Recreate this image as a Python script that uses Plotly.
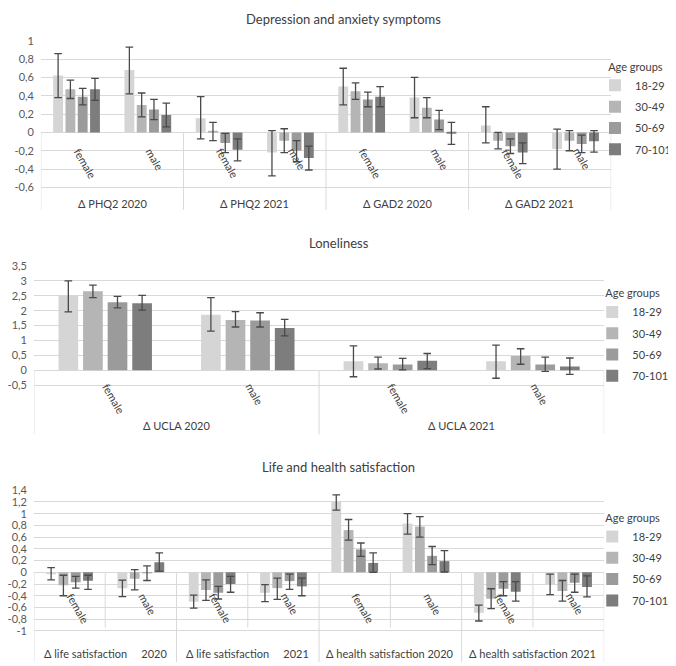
import plotly.graph_objects as go

# The page body adds an 8px margin, so the figure is 8px smaller than the window
W, H = 668, 658

age_groups = ["18-29", "30-49", "50-69", "70-101"]
colors = ["#d5d5d5", "#b5b5b5", "#9b9b9b", "#7d7d7d"]
sexes = ["female", "male"]

# ---------------- Panel 1: Depression and anxiety ----------------
p1_title = "Depression and anxiety symptoms"
p1_groups = ["Δ PHQ2 2020", "Δ PHQ2 2021", "Δ GAD2 2020", "Δ GAD2 2021"]
p1_val = {
    "18-29": [0.62, 0.68, 0.155, -0.22, 0.50, 0.38, 0.075, -0.18],
    "30-49": [0.47, 0.30, 0.01, -0.09, 0.45, 0.27, -0.09, -0.09],
    "50-69": [0.39, 0.25, -0.115, -0.20, 0.36, 0.14, -0.15, -0.125],
    "70-101": [0.47, 0.19, -0.19, -0.28, 0.39, -0.01, -0.22, -0.095],
}
p1_hi = {
    "18-29": [0.86, 0.93, 0.39, 0.02, 0.70, 0.60, 0.28, 0.035],
    "30-49": [0.57, 0.43, 0.11, 0.04, 0.54, 0.38, 0.00, 0.02],
    "50-69": [0.48, 0.36, -0.01, -0.09, 0.44, 0.24, -0.07, -0.03],
    "70-101": [0.59, 0.32, -0.07, -0.15, 0.50, 0.11, -0.115, 0.02],
}
p1_lo = {
    "18-29": [0.38, 0.42, -0.07, -0.475, 0.30, 0.16, -0.115, -0.40],
    "30-49": [0.37, 0.17, -0.09, -0.22, 0.36, 0.16, -0.18, -0.20],
    "50-69": [0.30, 0.14, -0.22, -0.32, 0.28, 0.03, -0.23, -0.22],
    "70-101": [0.35, 0.06, -0.31, -0.41, 0.28, -0.13, -0.34, -0.215],
}
p1_ticks = [-0.6, -0.4, -0.2, 0, 0.2, 0.4, 0.6, 0.8, 1]
p1_ticktext = ["-0,6", "-0,4", "-0,2", "0", "0,2", "0,4", "0,6", "0,8", "1"]

# ---------------- Panel 2: Loneliness ----------------
p2_title = "Loneliness"
p2_groups = ["Δ UCLA 2020", "Δ UCLA 2021"]
p2_val = {
    "18-29": [2.52, 1.86, 0.30, 0.30],
    "30-49": [2.65, 1.69, 0.23, 0.48],
    "50-69": [2.28, 1.67, 0.19, 0.19],
    "70-101": [2.25, 1.42, 0.32, 0.12],
}
p2_hi = {
    "18-29": [3.0, 2.44, 0.82, 0.84],
    "30-49": [2.86, 1.97, 0.44, 0.72],
    "50-69": [2.48, 1.93, 0.40, 0.44],
    "70-101": [2.51, 1.71, 0.56, 0.41],
}
p2_lo = {
    "18-29": [1.96, 1.31, -0.22, -0.27],
    "30-49": [2.44, 1.45, 0.04, 0.20],
    "50-69": [2.09, 1.45, 0.01, -0.04],
    "70-101": [2.02, 1.15, 0.055, -0.14],
}
p2_ticks = [-0.5, 0, 0.5, 1, 1.5, 2, 2.5, 3, 3.5]
p2_ticktext = ["-0,5", "0", "0,5", "1", "1,5", "2", "2,5", "3", "3,5"]

# ---------------- Panel 3: Life and health satisfaction ----------------
p3_title = "Life and health satisfaction"
NB = "\u00a0" * 5
p3_groups = ["Δ life satisfaction" + NB + "2020",
             "Δ life satisfaction" + NB + "2021",
             "Δ health satisfaction 2020", "Δ health satisfaction 2021"]
p3_val = {
    "18-29": [-0.02, -0.27, -0.50, -0.35, 1.20, 0.83, -0.69, -0.21],
    "30-49": [-0.22, -0.11, -0.30, -0.27, 0.72, 0.78, -0.45, -0.32],
    "50-69": [-0.17, -0.01, -0.35, -0.15, 0.39, 0.28, -0.28, -0.18],
    "70-101": [-0.145, 0.17, -0.20, -0.24, 0.16, 0.19, -0.33, -0.25],
}
p3_hi = {
    "18-29": [0.08, -0.135, -0.39, -0.21, 1.32, 1.00, -0.56, -0.03],
    "30-49": [-0.05, 0.045, -0.13, -0.10, 0.90, 0.95, -0.28, -0.14],
    "50-69": [-0.07, 0.11, -0.24, -0.03, 0.50, 0.44, -0.16, -0.03],
    "70-101": [-0.05, 0.33, -0.07, -0.10, 0.33, 0.37, -0.16, -0.06],
}
p3_lo = {
    "18-29": [-0.13, -0.415, -0.61, -0.50, 1.06, 0.65, -0.83, -0.38],
    "30-49": [-0.40, -0.30, -0.48, -0.46, 0.55, 0.60, -0.62, -0.49],
    "50-69": [-0.27, -0.14, -0.455, -0.29, 0.27, 0.13, -0.40, -0.34],
    "70-101": [-0.29, 0.02, -0.34, -0.40, 0.0, 0.005, -0.49, -0.42],
}
p3_ticks = [-1, -0.8, -0.6, -0.4, -0.2, 0, 0.2, 0.4, 0.6, 0.8, 1, 1.2, 1.4]
p3_ticktext = ["-1", "-0,8", "-0,6", "-0,4", "-0,2", "0", "0,2", "0,4", "0,6", "0,8", "1", "1,2", "1,4"]

FONT = "Lato, 'Open Sans', sans-serif"
GRID = "#d9d9d9"
TXT = "#404040"

fig = go.Figure()

panels = [
    dict(groups=p1_groups, val=p1_val, hi=p1_hi, lo=p1_lo, ticks=p1_ticks, tt=p1_ticktext,
         xpix=(32, 604), ypix=(26, 197), yr=(-0.845, 1.0), title=p1_title, tx=336, ty=4.5,
         pad=12, lx=-0.09, gly=191, sub=None, leg=(588, 42)),
    dict(groups=p2_groups, val=p2_val, hi=p2_hi, lo=p2_lo, ticks=p2_ticks, tt=p2_ticktext,
         xpix=(25, 597), ypix=(253.7, 424), yr=(-2.16, 3.5), title=p2_title, tx=330.5, ty=230,
         pad=9, lx=-0.045, gly=415, sub=None, leg=(585, 271)),
    dict(groups=p3_groups, val=p3_val, hi=p3_hi, lo=p3_lo, ticks=p3_ticks, tt=p3_ticktext,
         xpix=(25, 597), ypix=(480.3, 654), yr=(-1.53, 1.4), title=p3_title, tx=330, ty=457,
         pad=17, lx=-0.09, gly=645, sub=-0.94, leg=(585, 498)),
]

shapes = []
annotations = []
layout_axes = {}
for k, p in enumerate(panels, start=1):
    sfx = "" if k == 1 else str(k)
    xa, ya = "x" + sfx, "y" + sfx
    cats = [f"{g} | {s}" for g in p["groups"] for s in sexes]
    for j, ag in enumerate(age_groups):
        v = p["val"][ag]
        hi = p["hi"][ag]
        lo = p["lo"][ag]
        fig.add_trace(go.Bar(
            x=cats, y=v, name=ag, xaxis=xa, yaxis=ya,
            marker=dict(color=colors[j], line=dict(width=0)),
            error_y=dict(type="data", symmetric=False,
                         array=[h - a for h, a in zip(hi, v)],
                         arrayminus=[a - l for a, l in zip(v, lo)],
                         color="#4a4a4a", thickness=1.3, width=3.8),
            legend="legend" + sfx, legendgroup=ag,
        ))
    x0, x1 = p["xpix"]
    yt, yb = p["ypix"]
    layout_axes["xaxis" + sfx] = dict(
        domain=[x0 / W, x1 / W], anchor=ya, range=[-0.5, len(cats) - 0.5],
        showticklabels=False, showgrid=False, zeroline=False, showline=False,
        ticks="", type="category", categoryorder="array", categoryarray=cats)
    layout_axes["yaxis" + sfx] = dict(
        domain=[1 - yb / H, 1 - yt / H], anchor=xa, range=list(p["yr"]),
        tickvals=p["ticks"], ticktext=p["tt"], showgrid=True, gridcolor=GRID,
        gridwidth=1, zeroline=False, showline=False, ticks="",
        tickfont=dict(size=11, color="#595959", family=FONT), ticklabelstandoff=6)
    ymin = p["yr"][0]
    n = len(cats)
    for b in range(0, n + 1, 2):
        shapes.append(dict(type="line", xref=xa, yref=ya, x0=b - 0.5, x1=b - 0.5,
                           y0=0, y1=ymin, line=dict(color=GRID, width=1)))
    if p["sub"] is not None:
        for b in range(1, n, 2):
            shapes.append(dict(type="line", xref=xa, yref=ya, x0=b - 0.5, x1=b - 0.5,
                               y0=0, y1=p["sub"], line=dict(color=GRID, width=1)))
    for i, c in enumerate(cats):
        annotations.append(dict(
            x=i + p["lx"], y=0, xref=xa, yref=ya, text=sexes[i % 2], showarrow=False,
            xanchor="left", yanchor="top", yshift=-p["pad"], textangle=60,
            borderpad=0, font=dict(size=11, color=TXT, family=FONT)))
    ypx_per = (yb - yt) / (p["yr"][1] - p["yr"][0])
    y0px = yt + p["yr"][1] * ypx_per
    gval = (y0px - p["gly"]) / ypx_per
    for g_i, g in enumerate(p["groups"]):
        annotations.append(dict(
            x=2 * g_i + 0.5, y=gval, xref=xa, yref=ya, text=g, showarrow=False,
            xanchor="center", yanchor="middle", font=dict(size=11, color=TXT, family=FONT)))
    annotations.append(dict(
        x=p["tx"] / W, y=1 - p["ty"] / H, xref="paper", yref="paper", text=p["title"],
        showarrow=False, xanchor="center", yanchor="middle", borderpad=0,
        font=dict(size=13, color=TXT, family=FONT)))
    lx, ly = p["leg"]
    layout_axes["legend" + sfx] = dict(
        x=lx / W, y=1 - ly / H, xanchor="left", yanchor="top",
        title=dict(text="Age groups", side="top center", font=dict(size=11, color=TXT, family=FONT)),
        font=dict(size=11, color=TXT, family=FONT), bgcolor="rgba(0,0,0,0)",
        tracegroupgap=2.3, traceorder="grouped")

fig.update_layout(
    width=W, height=H, margin=dict(l=0, r=0, t=0, b=0),
    paper_bgcolor="white", plot_bgcolor="white",
    barmode="group", bargap=0.31, bargroupgap=0.2,
    shapes=shapes, annotations=annotations, showlegend=True,
    font=dict(family=FONT, color=TXT),
    **layout_axes,
)

fig.write_html("out.html")
